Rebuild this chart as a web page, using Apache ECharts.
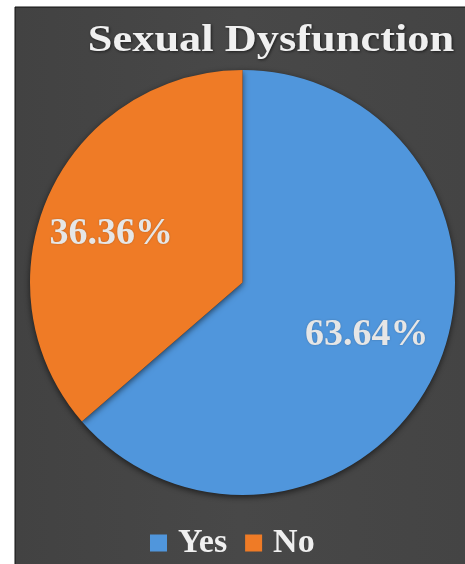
<!DOCTYPE html>
<html>
<head>
<meta charset="utf-8">
<script src="https://cdn.jsdelivr.net/npm/echarts@6/dist/echarts.min.js"></script>
<style>
html,body{margin:0;padding:0;background:#fff;}
#chart{width:465px;height:564px;}
</style>
</head>
<body>
<div id="chart"></div>
<script>
const titleText = 'Sexual Dysfunction';
const categories = ['Yes', 'No'];
const values = [63.64, 36.36];
const colors = ['#5096dc', '#ef7b26'];

const chart = echarts.init(document.getElementById('chart'), null, {renderer: 'canvas'});
const serif = '"Liberation Serif", "Times New Roman", serif';

const option = {
  backgroundColor: '#ffffff',
  animation: false,
  graphic: [
    {type: 'rect', z: -10, shape: {x: 15, y: 7, width: 451, height: 558},
     style: {fill: new echarts.graphic.LinearGradient(0, 0, 1, 0, [
       {offset: 0, color: '#424242'}, {offset: 0.5, color: '#484848'}, {offset: 1, color: '#444444'}]),
       stroke: '#111', lineWidth: 1}},
    {type: 'text', z: 10, x: 271, y: 41, scaleX: 1.2,
     style: {
       text: titleText, textAlign: 'center', textVerticalAlign: 'middle',
       fontFamily: serif, fontWeight: 'bold', fontSize: 37, fill: '#f0f0f0',
       textShadowColor: 'rgba(0,0,0,0.6)', textShadowBlur: 3, textShadowOffsetX: 1, textShadowOffsetY: 1
     }}
  ],
  legend: {
    data: categories,
    left: 145, top: 521,
    icon: 'rect', itemWidth: 17, itemHeight: 17, itemGap: 18,
    textStyle: {
      fontFamily: serif, fontWeight: 'bold', fontSize: 34, color: '#f0f0f0',
      padding: [0, 0, 0, 6]
    }
  },
  series: [{
    type: 'pie',
    center: [242.5, 282.5],
    radius: [0, 212.5],
    startAngle: 90,
    clockwise: true,
    itemStyle: {shadowColor: 'rgba(0,0,0,0.6)', shadowBlur: 6, shadowOffsetY: 2},
    label: {
      show: true, position: 'inside',
      formatter: p => p.value.toFixed(2) + '%',
      fontFamily: serif, fontWeight: 'bold', fontSize: 38, color: '#e6e6e6',
      textShadowColor: 'rgba(0,0,0,0.25)', textShadowBlur: 2
    },
    labelLayout: function (params) {
      if (params.dataIndex === 0) return {dx: 25, dy: 7};
      return {dx: -32, dy: -3};
    },
    data: categories.map((c, i) => ({name: c, value: values[i], itemStyle: {color: colors[i]}}))
  }]
};
chart.setOption(option);
</script>
</body>
</html>
